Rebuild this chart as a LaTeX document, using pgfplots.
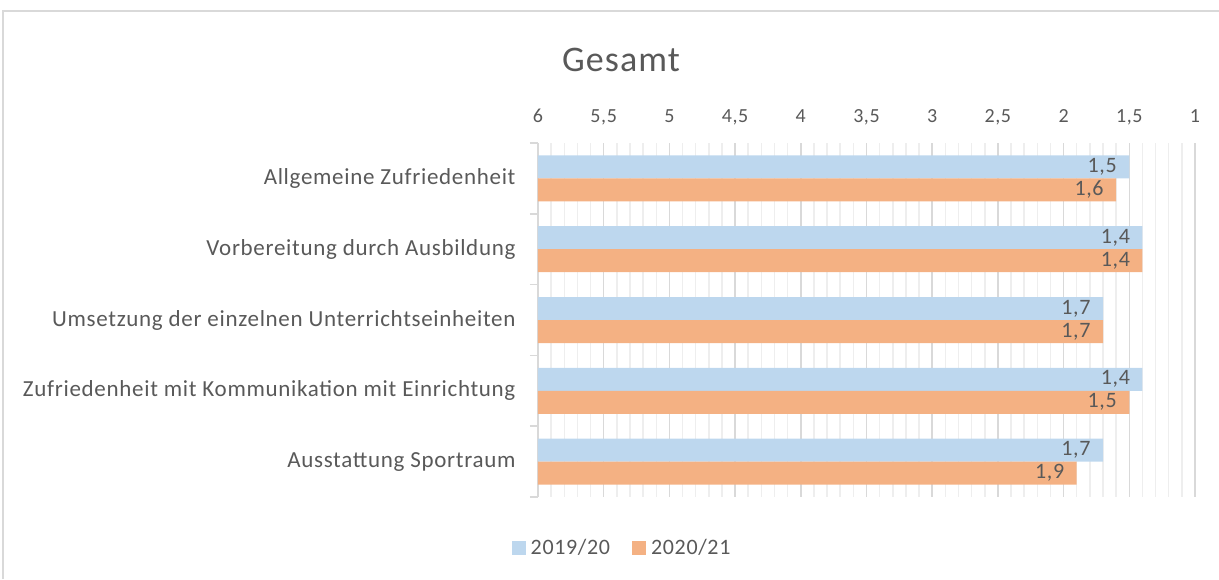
\documentclass[border=0pt]{standalone}
\usepackage{pgfplots}
\pgfplotsset{compat=1.18}
\usepackage{pgfplotstable}
\usepackage{fontspec}
\setmainfont{Carlito}[LetterSpace=3]
\definecolor{cblue}{HTML}{BDD7EE}
\definecolor{corange}{HTML}{F4B183}
\definecolor{ctext}{HTML}{595959}
\definecolor{cmaj}{HTML}{D9D9D9}
\definecolor{cmin}{HTML}{EEEEEE}

\pgfplotstableread{
y v
0 1.5
1 1.4
2 1.7
3 1.4
4 1.7
}\datafirst
\pgfplotstableread{
y v
0 1.6
1 1.4
2 1.7
3 1.5
4 1.9
}\datasecond

\begin{document}
\begin{tikzpicture}[x=1pt,y=1pt]
\useasboundingbox (0,0) rectangle (1219,579);
\draw[cmaj, line width=1.5pt] (3,0) -- (3,568) -- (1219,568);
\node[text=ctext, font=\fontsize{36}{43}\selectfont] at (621,519) {Gesamt};
\begin{axis}[
  at={(538pt,82pt)}, anchor=south west,
  scale only axis, width=657pt, height=354pt,
  xbar, bar width=23pt,
  xmin=0, xmax=5, ymin=-0.5, ymax=4.5, y dir=reverse,
  axis x line*=top, x axis line style={draw=none},
  axis y line*=left, y axis line style={cmaj, line width=1.5pt},
  xtick={0,0.5,1,1.5,2,2.5,3,3.5,4,4.5,5},
  xticklabels={6,{5,5},5,{4,5},4,{3,5},3,{2,5},2,{1,5},1},
  minor x tick num=4,
  xticklabel pos=upper,
  xtick style={draw=none},
  xmajorgrids=true, xminorgrids=true,
  major x grid style={cmaj, line width=1.5pt},
  minor x grid style={cmin, line width=1.5pt},
  ytick={0,1,2,3,4},
  yticklabels={Allgemeine Zufriedenheit,Vorbereitung durch Ausbildung,Umsetzung der einzelnen Unterrichtseinheiten,Zufriedenheit mit Kommunikation mit Einrichtung,Ausstattung Sportraum},
  minor ytick={-0.5,0.5,1.5,2.5,3.5,4.5},
  major tick length=0pt, minor tick length=8pt,
  tick align=outside,
  minor y tick style={cmaj, line width=1.5pt},
  ymajorgrids=false, yminorgrids=false,
  xticklabel style={font=\fontsize{20}{24}\selectfont, text=ctext, anchor=base, yshift=21pt},
  yticklabel style={font=\fontsize{23}{27}\selectfont, text=ctext, anchor=east, xshift=-19pt},
  point meta=explicit,
  nodes near coords={\pgfmathprintnumber[fixed,precision=1,fixed zerofill,use comma,assume math mode=true]{\pgfplotspointmeta}},
  every node near coord/.append style={font=\fontsize{22}{26}\selectfont, text=ctext, anchor=east, xshift=-9pt},
  legend style={at={(0.128,-0.144)}, anchor=center, draw=none, fill=none,
    font=\fontsize{22}{26}\selectfont, text=ctext,
    /tikz/every odd column/.append style={column sep=3pt},
    /tikz/every even column/.append style={column sep=20pt}},
  legend columns=2,
  legend image code/.code={\fill[#1] (0pt,-7pt) rectangle (14pt,7pt);},
]
\addplot[fill=cblue, draw=none, bar shift=11.5pt] table[x expr=6-\thisrow{v}, y=y, meta=v] {\datafirst};
\addplot[fill=corange, draw=none, bar shift=-11.5pt] table[x expr=6-\thisrow{v}, y=y, meta=v] {\datasecond};
\legend{2019/20,2020/21}
\end{axis}
\end{tikzpicture}
\end{document}
